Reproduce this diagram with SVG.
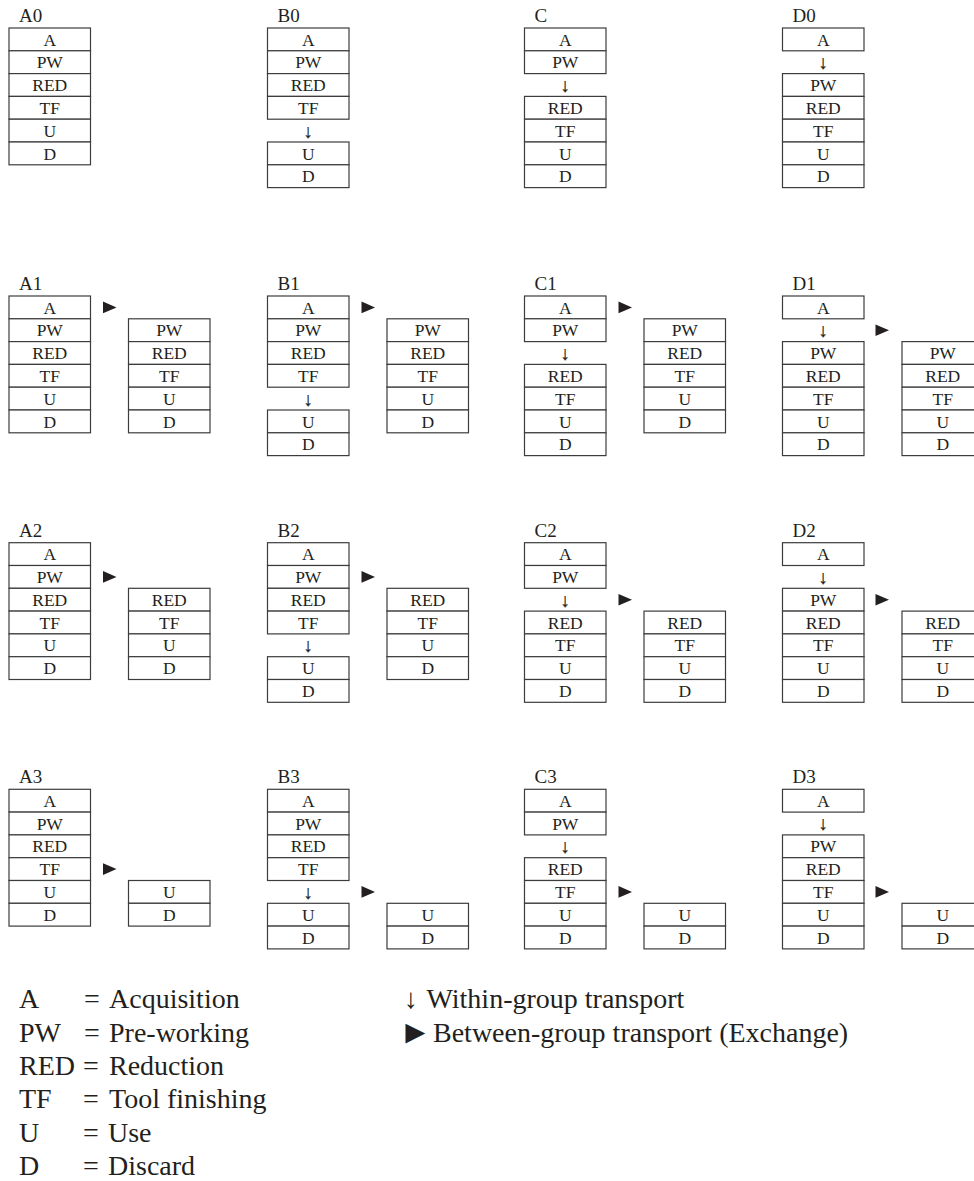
<svg xmlns="http://www.w3.org/2000/svg" width="974" height="1181" viewBox="0 0 974 1181">
<style>
.c{fill:#fff;stroke:#3c3c3c;stroke-width:1.2}
.t{font-family:"Liberation Serif","Times New Roman",serif;font-size:17.5px;fill:#231f20;text-anchor:middle}
.ar{font-family:"Liberation Serif","Times New Roman",serif;font-size:19px;fill:#231f20;stroke:#231f20;stroke-width:0.3;text-anchor:middle}
.lb{font-family:"Liberation Serif","Times New Roman",serif;font-size:19px;fill:#231f20}
.lg{font-family:"Liberation Serif","Times New Roman",serif;font-size:28px;fill:#231f20}
.tri{fill:#231f20}
</style>
<defs>
<rect id="cell" class="c" width="81.5" height="22.8"/>
</defs>
<rect width="974" height="1181" fill="#fff"/>

<!-- Band 0 -->
<g id="A0" transform="translate(9,28)">
<text class="lb" x="10" y="-6">A0</text>
<use href="#cell" y="0"/><text class="t" x="40.75" y="17.5">A</text>
<use href="#cell" y="22.8"/><text class="t" x="40.75" y="40.3">PW</text>
<use href="#cell" y="45.6"/><text class="t" x="40.75" y="63.1">RED</text>
<use href="#cell" y="68.4"/><text class="t" x="40.75" y="85.9">TF</text>
<use href="#cell" y="91.2"/><text class="t" x="40.75" y="108.7">U</text>
<use href="#cell" y="114"/><text class="t" x="40.75" y="131.5">D</text>
</g>
<g id="B0" transform="translate(267.5,28)">
<text class="lb" x="10" y="-6">B0</text>
<use href="#cell" y="0"/><text class="t" x="40.75" y="17.5">A</text>
<use href="#cell" y="22.8"/><text class="t" x="40.75" y="40.3">PW</text>
<use href="#cell" y="45.6"/><text class="t" x="40.75" y="63.1">RED</text>
<use href="#cell" y="68.4"/><text class="t" x="40.75" y="85.9">TF</text>
<use href="#cell" y="114"/><text class="t" x="40.75" y="131.5">U</text>
<use href="#cell" y="136.8"/><text class="t" x="40.75" y="154.3">D</text>
</g>
<g id="C0" transform="translate(524.5,28)">
<text class="lb" x="10" y="-6">C</text>
<use href="#cell" y="0"/><text class="t" x="40.75" y="17.5">A</text>
<use href="#cell" y="22.8"/><text class="t" x="40.75" y="40.3">PW</text>
<use href="#cell" y="68.4"/><text class="t" x="40.75" y="85.9">RED</text>
<use href="#cell" y="91.2"/><text class="t" x="40.75" y="108.7">TF</text>
<use href="#cell" y="114"/><text class="t" x="40.75" y="131.5">U</text>
<use href="#cell" y="136.8"/><text class="t" x="40.75" y="154.3">D</text>
</g>
<g id="D0" transform="translate(782.5,28)">
<text class="lb" x="10" y="-6">D0</text>
<use href="#cell" y="0"/><text class="t" x="40.75" y="17.5">A</text>
<use href="#cell" y="45.6"/><text class="t" x="40.75" y="63.1">PW</text>
<use href="#cell" y="68.4"/><text class="t" x="40.75" y="85.9">RED</text>
<use href="#cell" y="91.2"/><text class="t" x="40.75" y="108.7">TF</text>
<use href="#cell" y="114"/><text class="t" x="40.75" y="131.5">U</text>
<use href="#cell" y="136.8"/><text class="t" x="40.75" y="154.3">D</text>
</g>

<!-- Band 1 -->
<g id="A1" transform="translate(9,296)">
<text class="lb" x="10" y="-6">A1</text>
<use href="#cell" y="0"/><text class="t" x="40.75" y="17.5">A</text>
<use href="#cell" y="22.8"/><text class="t" x="40.75" y="40.3">PW</text>
<use href="#cell" y="45.6"/><text class="t" x="40.75" y="63.1">RED</text>
<use href="#cell" y="68.4"/><text class="t" x="40.75" y="85.9">TF</text>
<use href="#cell" y="91.2"/><text class="t" x="40.75" y="108.7">U</text>
<use href="#cell" y="114"/><text class="t" x="40.75" y="131.5">D</text>
</g>
<g id="A1x" transform="translate(128.5,296)">
<use href="#cell" y="22.8"/><text class="t" x="40.75" y="40.3">PW</text>
<use href="#cell" y="45.6"/><text class="t" x="40.75" y="63.1">RED</text>
<use href="#cell" y="68.4"/><text class="t" x="40.75" y="85.9">TF</text>
<use href="#cell" y="91.2"/><text class="t" x="40.75" y="108.7">U</text>
<use href="#cell" y="114"/><text class="t" x="40.75" y="131.5">D</text>
</g>
<g id="B1" transform="translate(267.5,296)">
<text class="lb" x="10" y="-6">B1</text>
<use href="#cell" y="0"/><text class="t" x="40.75" y="17.5">A</text>
<use href="#cell" y="22.8"/><text class="t" x="40.75" y="40.3">PW</text>
<use href="#cell" y="45.6"/><text class="t" x="40.75" y="63.1">RED</text>
<use href="#cell" y="68.4"/><text class="t" x="40.75" y="85.9">TF</text>
<use href="#cell" y="114"/><text class="t" x="40.75" y="131.5">U</text>
<use href="#cell" y="136.8"/><text class="t" x="40.75" y="154.3">D</text>
</g>
<g id="B1x" transform="translate(387,296)">
<use href="#cell" y="22.8"/><text class="t" x="40.75" y="40.3">PW</text>
<use href="#cell" y="45.6"/><text class="t" x="40.75" y="63.1">RED</text>
<use href="#cell" y="68.4"/><text class="t" x="40.75" y="85.9">TF</text>
<use href="#cell" y="91.2"/><text class="t" x="40.75" y="108.7">U</text>
<use href="#cell" y="114"/><text class="t" x="40.75" y="131.5">D</text>
</g>
<g id="C1" transform="translate(524.5,296)">
<text class="lb" x="10" y="-6">C1</text>
<use href="#cell" y="0"/><text class="t" x="40.75" y="17.5">A</text>
<use href="#cell" y="22.8"/><text class="t" x="40.75" y="40.3">PW</text>
<use href="#cell" y="68.4"/><text class="t" x="40.75" y="85.9">RED</text>
<use href="#cell" y="91.2"/><text class="t" x="40.75" y="108.7">TF</text>
<use href="#cell" y="114"/><text class="t" x="40.75" y="131.5">U</text>
<use href="#cell" y="136.8"/><text class="t" x="40.75" y="154.3">D</text>
</g>
<g id="C1x" transform="translate(644,296)">
<use href="#cell" y="22.8"/><text class="t" x="40.75" y="40.3">PW</text>
<use href="#cell" y="45.6"/><text class="t" x="40.75" y="63.1">RED</text>
<use href="#cell" y="68.4"/><text class="t" x="40.75" y="85.9">TF</text>
<use href="#cell" y="91.2"/><text class="t" x="40.75" y="108.7">U</text>
<use href="#cell" y="114"/><text class="t" x="40.75" y="131.5">D</text>
</g>
<g id="D1" transform="translate(782.5,296)">
<text class="lb" x="10" y="-6">D1</text>
<use href="#cell" y="0"/><text class="t" x="40.75" y="17.5">A</text>
<use href="#cell" y="45.6"/><text class="t" x="40.75" y="63.1">PW</text>
<use href="#cell" y="68.4"/><text class="t" x="40.75" y="85.9">RED</text>
<use href="#cell" y="91.2"/><text class="t" x="40.75" y="108.7">TF</text>
<use href="#cell" y="114"/><text class="t" x="40.75" y="131.5">U</text>
<use href="#cell" y="136.8"/><text class="t" x="40.75" y="154.3">D</text>
</g>
<g id="D1x" transform="translate(902,296)">
<use href="#cell" y="45.6"/><text class="t" x="40.75" y="63.1">PW</text>
<use href="#cell" y="68.4"/><text class="t" x="40.75" y="85.9">RED</text>
<use href="#cell" y="91.2"/><text class="t" x="40.75" y="108.7">TF</text>
<use href="#cell" y="114"/><text class="t" x="40.75" y="131.5">U</text>
<use href="#cell" y="136.8"/><text class="t" x="40.75" y="154.3">D</text>
</g>

<!-- Band 2 -->
<g id="A2" transform="translate(9,542.7)">
<text class="lb" x="10" y="-6">A2</text>
<use href="#cell" y="0"/><text class="t" x="40.75" y="17.5">A</text>
<use href="#cell" y="22.8"/><text class="t" x="40.75" y="40.3">PW</text>
<use href="#cell" y="45.6"/><text class="t" x="40.75" y="63.1">RED</text>
<use href="#cell" y="68.4"/><text class="t" x="40.75" y="85.9">TF</text>
<use href="#cell" y="91.2"/><text class="t" x="40.75" y="108.7">U</text>
<use href="#cell" y="114"/><text class="t" x="40.75" y="131.5">D</text>
</g>
<g id="A2x" transform="translate(128.5,542.7)">
<use href="#cell" y="45.6"/><text class="t" x="40.75" y="63.1">RED</text>
<use href="#cell" y="68.4"/><text class="t" x="40.75" y="85.9">TF</text>
<use href="#cell" y="91.2"/><text class="t" x="40.75" y="108.7">U</text>
<use href="#cell" y="114"/><text class="t" x="40.75" y="131.5">D</text>
</g>
<g id="B2" transform="translate(267.5,542.7)">
<text class="lb" x="10" y="-6">B2</text>
<use href="#cell" y="0"/><text class="t" x="40.75" y="17.5">A</text>
<use href="#cell" y="22.8"/><text class="t" x="40.75" y="40.3">PW</text>
<use href="#cell" y="45.6"/><text class="t" x="40.75" y="63.1">RED</text>
<use href="#cell" y="68.4"/><text class="t" x="40.75" y="85.9">TF</text>
<use href="#cell" y="114"/><text class="t" x="40.75" y="131.5">U</text>
<use href="#cell" y="136.8"/><text class="t" x="40.75" y="154.3">D</text>
</g>
<g id="B2x" transform="translate(387,542.7)">
<use href="#cell" y="45.6"/><text class="t" x="40.75" y="63.1">RED</text>
<use href="#cell" y="68.4"/><text class="t" x="40.75" y="85.9">TF</text>
<use href="#cell" y="91.2"/><text class="t" x="40.75" y="108.7">U</text>
<use href="#cell" y="114"/><text class="t" x="40.75" y="131.5">D</text>
</g>
<g id="C2" transform="translate(524.5,542.7)">
<text class="lb" x="10" y="-6">C2</text>
<use href="#cell" y="0"/><text class="t" x="40.75" y="17.5">A</text>
<use href="#cell" y="22.8"/><text class="t" x="40.75" y="40.3">PW</text>
<use href="#cell" y="68.4"/><text class="t" x="40.75" y="85.9">RED</text>
<use href="#cell" y="91.2"/><text class="t" x="40.75" y="108.7">TF</text>
<use href="#cell" y="114"/><text class="t" x="40.75" y="131.5">U</text>
<use href="#cell" y="136.8"/><text class="t" x="40.75" y="154.3">D</text>
</g>
<g id="C2x" transform="translate(644,542.7)">
<use href="#cell" y="68.4"/><text class="t" x="40.75" y="85.9">RED</text>
<use href="#cell" y="91.2"/><text class="t" x="40.75" y="108.7">TF</text>
<use href="#cell" y="114"/><text class="t" x="40.75" y="131.5">U</text>
<use href="#cell" y="136.8"/><text class="t" x="40.75" y="154.3">D</text>
</g>
<g id="D2" transform="translate(782.5,542.7)">
<text class="lb" x="10" y="-6">D2</text>
<use href="#cell" y="0"/><text class="t" x="40.75" y="17.5">A</text>
<use href="#cell" y="45.6"/><text class="t" x="40.75" y="63.1">PW</text>
<use href="#cell" y="68.4"/><text class="t" x="40.75" y="85.9">RED</text>
<use href="#cell" y="91.2"/><text class="t" x="40.75" y="108.7">TF</text>
<use href="#cell" y="114"/><text class="t" x="40.75" y="131.5">U</text>
<use href="#cell" y="136.8"/><text class="t" x="40.75" y="154.3">D</text>
</g>
<g id="D2x" transform="translate(902,542.7)">
<use href="#cell" y="68.4"/><text class="t" x="40.75" y="85.9">RED</text>
<use href="#cell" y="91.2"/><text class="t" x="40.75" y="108.7">TF</text>
<use href="#cell" y="114"/><text class="t" x="40.75" y="131.5">U</text>
<use href="#cell" y="136.8"/><text class="t" x="40.75" y="154.3">D</text>
</g>

<!-- Band 3 -->
<g id="A3" transform="translate(9,789.3)">
<text class="lb" x="10" y="-6">A3</text>
<use href="#cell" y="0"/><text class="t" x="40.75" y="17.5">A</text>
<use href="#cell" y="22.8"/><text class="t" x="40.75" y="40.3">PW</text>
<use href="#cell" y="45.6"/><text class="t" x="40.75" y="63.1">RED</text>
<use href="#cell" y="68.4"/><text class="t" x="40.75" y="85.9">TF</text>
<use href="#cell" y="91.2"/><text class="t" x="40.75" y="108.7">U</text>
<use href="#cell" y="114"/><text class="t" x="40.75" y="131.5">D</text>
</g>
<g id="A3x" transform="translate(128.5,789.3)">
<use href="#cell" y="91.2"/><text class="t" x="40.75" y="108.7">U</text>
<use href="#cell" y="114"/><text class="t" x="40.75" y="131.5">D</text>
</g>
<g id="B3" transform="translate(267.5,789.3)">
<text class="lb" x="10" y="-6">B3</text>
<use href="#cell" y="0"/><text class="t" x="40.75" y="17.5">A</text>
<use href="#cell" y="22.8"/><text class="t" x="40.75" y="40.3">PW</text>
<use href="#cell" y="45.6"/><text class="t" x="40.75" y="63.1">RED</text>
<use href="#cell" y="68.4"/><text class="t" x="40.75" y="85.9">TF</text>
<use href="#cell" y="114"/><text class="t" x="40.75" y="131.5">U</text>
<use href="#cell" y="136.8"/><text class="t" x="40.75" y="154.3">D</text>
</g>
<g id="B3x" transform="translate(387,789.3)">
<use href="#cell" y="114"/><text class="t" x="40.75" y="131.5">U</text>
<use href="#cell" y="136.8"/><text class="t" x="40.75" y="154.3">D</text>
</g>
<g id="C3" transform="translate(524.5,789.3)">
<text class="lb" x="10" y="-6">C3</text>
<use href="#cell" y="0"/><text class="t" x="40.75" y="17.5">A</text>
<use href="#cell" y="22.8"/><text class="t" x="40.75" y="40.3">PW</text>
<use href="#cell" y="68.4"/><text class="t" x="40.75" y="85.9">RED</text>
<use href="#cell" y="91.2"/><text class="t" x="40.75" y="108.7">TF</text>
<use href="#cell" y="114"/><text class="t" x="40.75" y="131.5">U</text>
<use href="#cell" y="136.8"/><text class="t" x="40.75" y="154.3">D</text>
</g>
<g id="C3x" transform="translate(644,789.3)">
<use href="#cell" y="114"/><text class="t" x="40.75" y="131.5">U</text>
<use href="#cell" y="136.8"/><text class="t" x="40.75" y="154.3">D</text>
</g>
<g id="D3" transform="translate(782.5,789.3)">
<text class="lb" x="10" y="-6">D3</text>
<use href="#cell" y="0"/><text class="t" x="40.75" y="17.5">A</text>
<use href="#cell" y="45.6"/><text class="t" x="40.75" y="63.1">PW</text>
<use href="#cell" y="68.4"/><text class="t" x="40.75" y="85.9">RED</text>
<use href="#cell" y="91.2"/><text class="t" x="40.75" y="108.7">TF</text>
<use href="#cell" y="114"/><text class="t" x="40.75" y="131.5">U</text>
<use href="#cell" y="136.8"/><text class="t" x="40.75" y="154.3">D</text>
</g>
<g id="D3x" transform="translate(902,789.3)">
<use href="#cell" y="114"/><text class="t" x="40.75" y="131.5">U</text>
<use href="#cell" y="136.8"/><text class="t" x="40.75" y="154.3">D</text>
</g>

<!-- Connectors: within-group (↓) and between-group (►) -->
<g id="connectors">
<text class="ar" x="308.25" y="137.5">↓</text>
<text class="ar" x="565.25" y="91.9">↓</text>
<text class="ar" x="823.25" y="69.1">↓</text>
<text class="ar" x="308.25" y="405.5">↓</text>
<text class="ar" x="565.25" y="359.9">↓</text>
<text class="ar" x="823.25" y="337.1">↓</text>
<text class="ar" x="308.25" y="652.2">↓</text>
<text class="ar" x="565.25" y="606.6">↓</text>
<text class="ar" x="823.25" y="583.8">↓</text>
<text class="ar" x="308.25" y="898.8">↓</text>
<text class="ar" x="565.25" y="853.2">↓</text>
<text class="ar" x="823.25" y="830.4">↓</text>
<polygon class="tri" points="103,301.6 116.5,307.4 103,313.2"/>
<polygon class="tri" points="361.5,301.6 375,307.4 361.5,313.2"/>
<polygon class="tri" points="618.5,301.6 632,307.4 618.5,313.2"/>
<polygon class="tri" points="875.5,324.4 889,330.2 875.5,336"/>
<polygon class="tri" points="103,571.1 116.5,576.9 103,582.7"/>
<polygon class="tri" points="361.5,571.1 375,576.9 361.5,582.7"/>
<polygon class="tri" points="618.5,593.9 632,599.7 618.5,605.5"/>
<polygon class="tri" points="875.5,593.9 889,599.7 875.5,605.5"/>
<polygon class="tri" points="103,863.3 116.5,869.1 103,874.9"/>
<polygon class="tri" points="361.5,886.1 375,891.9 361.5,897.7"/>
<polygon class="tri" points="618.5,886.1 632,891.9 618.5,897.7"/>
<polygon class="tri" points="875.5,886.1 889,891.9 875.5,897.7"/>
</g>

<!-- Legend -->
<g id="legend">
<text class="lg" y="1008.4"><tspan x="19">A</tspan><tspan x="84">=</tspan><tspan x="109">Acquisition</tspan></text>
<text class="lg" y="1041.7"><tspan x="19">PW</tspan><tspan x="84">=</tspan><tspan x="109">Pre-working</tspan></text>
<text class="lg" y="1075"><tspan x="19">RED</tspan><tspan x="83">=</tspan><tspan x="109">Reduction</tspan></text>
<text class="lg" y="1108.3"><tspan x="19">TF</tspan><tspan x="83">=</tspan><tspan x="109">Tool finishing</tspan></text>
<text class="lg" y="1141.6"><tspan x="19">U</tspan><tspan x="83">=</tspan><tspan x="108">Use</tspan></text>
<text class="lg" y="1175"><tspan x="19">D</tspan><tspan x="83">=</tspan><tspan x="108">Discard</tspan></text>
<text class="lg" y="1008.4"><tspan x="404">↓</tspan><tspan x="426.5">Within-group transport</tspan></text>
<text class="lg" y="1041.7"><tspan x="399" font-size="33px" dy="1.5">►</tspan><tspan x="433" dy="-1.5">Between-group transport (Exchange)</tspan></text>
</g>
</svg>
